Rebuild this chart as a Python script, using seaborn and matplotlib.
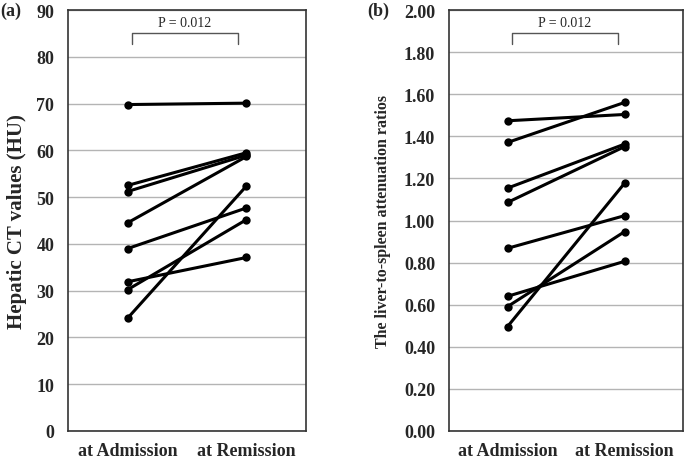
import matplotlib
matplotlib.use('Agg')
import matplotlib.pyplot as plt
import seaborn as sns
import pandas as pd

# values, one entry per patient
timepoints = ['at Admission', 'at Remission']
ct_admission = [69.8, 52.5, 51.2, 44.5, 39.0, 31.9, 30.2, 24.1]
ct_remission = [70.1, 59.5, 59.0, 58.7, 47.7, 37.1, 45.2, 52.4]
ls_admission = [1.474, 1.371, 1.154, 1.086, 0.868, 0.640, 0.591, 0.496]
ls_remission = [1.504, 1.561, 1.363, 1.351, 1.023, 0.806, 0.947, 1.177]
p_text = 'P = 0.012'

sns.set_theme(style='white')
plt.rcParams['font.family'] = ['Liberation Serif', 'DejaVu Serif']


def to_long(before, after):
    rows = []
    for i, (b, a) in enumerate(zip(before, after)):
        rows.append({'patient': i, 'time': timepoints[0], 'value': b})
        rows.append({'patient': i, 'time': timepoints[1], 'value': a})
    return pd.DataFrame(rows)


def draw_panel(ax, df, ylim, yticks, fmt, ylabel, ylabel_size, ylabel_pad, tag, tag_x,
               br_x, br_y, br_h):
    sns.lineplot(data=df, x='time', y='value', units='patient', estimator=None,
                 color='black', linewidth=2.2, marker='o', markersize=6,
                 markeredgewidth=0, ax=ax, sort=False)
    ax.set_xlim(-0.5, 1.5)
    ax.set_ylim(*ylim)
    ax.set_yticks(yticks)
    ax.set_yticklabels([fmt.format(v) for v in yticks], fontweight='bold', fontsize=13)
    ax.set_xticks([0, 1])
    ax.set_xticklabels(timepoints, fontweight='bold', fontsize=13)
    ax.tick_params(axis='both', length=0)
    ax.tick_params(axis='y', pad=10)
    ax.tick_params(axis='x', pad=8)
    ax.grid(axis='y', color='#b4b4b4', linewidth=1.0)
    ax.set_axisbelow(True)
    for s in ax.spines.values():
        s.set_color('#333333')
        s.set_linewidth(1.2)
    ax.set_xlabel('')
    ax.set_ylabel(ylabel, fontweight='bold', fontsize=ylabel_size, labelpad=ylabel_pad)
    # significance bracket
    x0, x1 = br_x
    ax.plot([x0, x0, x1, x1], [br_y - br_h, br_y, br_y, br_y - br_h],
            color='#555555', linewidth=1.0, clip_on=False)
    ax.text((x0 + x1) / 2, br_y + br_h * 0.4, p_text, ha='center', va='bottom',
            fontsize=10)
    ax.text(tag_x, 1.0, tag, transform=ax.transAxes, fontweight='bold',
            fontsize=13, ha='left', va='center')


fig = plt.figure(figsize=(6.85, 4.6), dpi=100)
ax_a = fig.add_axes([0.0993, 0.0609, 0.3474, 0.915])
ax_b = fig.add_axes([0.6555, 0.0609, 0.3416, 0.915])

draw_panel(ax_a, to_long(ct_admission, ct_remission), (0, 90), list(range(0, 91, 10)),
           '{:.0f}', 'Hepatic CT values (HU)', 15, 7, '(a)', -0.285,
           (0.035, 0.93), 85.0, 2.3)
draw_panel(ax_b, to_long(ls_admission, ls_remission), (0, 2.0),
           [i / 5 for i in range(11)], '{:.2f}', 'The liver-to-spleen attenuation ratios',
           11.5, 9, '(b)', -0.35, (0.036, 0.945), 1.889, 0.05)

fig.savefig('out.png', dpi=100)
